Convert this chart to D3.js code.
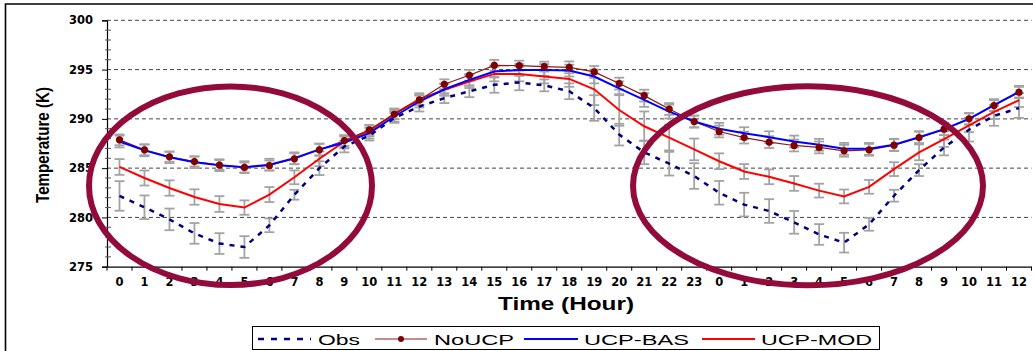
<!DOCTYPE html>
<html><head><meta charset="utf-8">
<script src="https://cdn.jsdelivr.net/npm/d3@7"></script>
<style>
html,body{margin:0;padding:0;background:#fff;}
svg{display:block;}
</style></head>
<body>
<svg id="chart" width="1033" height="351"></svg>
<script>
// ---- data ----
const hourLabels = ["0","1","2","3","4","5","6","7","8","9","10","11","12","13","14","15","16","17","18","19","20","21","22","23",
                    "0","1","2","3","4","5","6","7","8","9","10","11","12"];
const obs    = [282.18,281.03,279.8,278.38,277.35,277.0,279.2,282.3,285.0,287.2,288.3,290.1,291.25,292.1,292.8,293.45,293.7,293.4,292.8,291.1,288.4,286.6,285.45,284.2,
                282.5,281.3,280.65,279.5,278.27,277.44,279.3,282.2,284.8,287.1,288.9,290.3,291.1];
const noUCP  = [287.87,286.86,286.15,285.67,285.31,285.07,285.27,285.95,286.86,287.8,288.89,290.47,291.92,293.51,294.42,295.43,295.4,295.3,295.23,294.76,293.58,292.36,291.0,289.73,
                288.72,288.1,287.64,287.3,287.1,286.76,286.86,287.33,288.1,288.95,290.0,291.35,292.7];
const ucpBAS = [287.7,286.8,286.1,285.6,285.3,285.1,285.35,286.0,286.9,287.6,288.55,290.24,291.76,293.0,293.95,294.8,294.96,294.96,294.9,294.3,293.1,291.92,290.74,289.73,
                288.99,288.55,288.14,287.7,287.37,286.96,286.96,287.37,288.14,288.95,290.0,291.4,292.75];
const ucpMOD = [285.12,284.0,282.98,282.07,281.36,281.0,282.32,284.07,285.95,287.7,288.78,290.5,292.0,292.94,293.78,294.56,294.56,294.3,294.05,293.0,290.9,289.25,288.1,286.9,
                285.7,284.66,284.12,283.45,282.72,282.13,283.1,284.9,286.6,287.95,289.35,290.7,291.9];
// error bar half-widths (K)
const obsErr = [1.5,1.2,1.1,1.05,1.05,1.1,0.7,0.5,0.7,0.6,0.5,0.5,0.5,0.5,0.6,0.8,0.8,0.6,0.8,1.3,1.1,1.2,1.2,1.3,
                1.2,1.2,1.2,1.15,1.05,1.0,0.65,0.6,0.6,0.8,1.2,1.0,1.0];
const noUCPErr = [0.55,0.55,0.5,0.5,0.5,0.5,0.5,0.55,0.6,0.55,0.5,0.5,0.5,0.5,0.55,0.55,0.5,0.5,0.6,0.6,0.6,0.6,0.6,0.6,
                  0.6,0.6,0.6,0.6,0.6,0.6,0.6,0.6,0.6,0.6,0.55,0.55,0.55];
const basErr = [0.6,0.6,0.6,0.6,0.6,0.6,0.6,0.6,0.6,0.6,0.55,0.55,0.6,0.6,0.6,0.6,0.6,0.6,0.6,0.7,0.7,0.7,0.7,0.6,
                0.6,0.6,0.6,0.6,0.6,0.6,0.6,0.6,0.6,0.6,0.6,0.6,0.6];
const modErr = [0.8,0.76,0.78,0.78,0.8,0.73,0.76,0.7,0.75,0.6,0.55,0.55,0.6,0.6,0.65,0.75,0.75,0.7,0.8,1.6,1.6,1.5,1.3,1.1,
                0.8,0.75,0.75,0.75,0.7,0.7,0.7,0.7,0.8,0.8,0.7,0.7,0.7];
const yTicks = [275,280,285,290,295,300];
const seriesNames = ["Obs","NoUCP","UCP-BAS","UCP-MOD"];

// ---- layout ----
const svg = d3.select("#chart");
const L = 107, R = 1031.5, T = 20.3, B = 266.7;
const x = d3.scaleBand().domain(d3.range(hourLabels.length)).range([L, R]).padding(0);
const y = d3.scaleLinear().domain([275, 300]).range([B, T]);
const cx = i => x(i) + x.bandwidth() / 2;

// outer frame
svg.append("path").attr("d", "M5.5,351 L5.5,4 L1033,4").attr("fill","none").attr("stroke","#000").attr("stroke-width",1.6);

// gridlines
svg.append("g").selectAll("line").data(yTicks.filter(v => v > 275)).join("line")
  .attr("x1", L).attr("x2", R).attr("y1", d => y(d)).attr("y2", d => y(d))
  .attr("stroke", "#444").attr("stroke-width", 1).attr("stroke-dasharray", "4,3");

// y axis
const yAxis = svg.append("g").attr("transform", `translate(${L},0)`)
  .call(d3.axisLeft(y).tickValues(yTicks).tickSize(5).tickPadding(9).tickFormat(d3.format("d")));
yAxis.select(".domain").attr("stroke","#000").attr("stroke-width",1.2);
yAxis.selectAll("text").attr("font-family","'DejaVu Sans', sans-serif").attr("font-weight","bold")
  .attr("font-size", 11.5).attr("fill","#000");
// minor ticks (crossing the axis)
svg.append("g").selectAll("line").data(d3.range(276, 300).filter(v => v % 5 !== 0)).join("line")
  .attr("x1", L - 2).attr("x2", L + 4).attr("y1", d => y(d)).attr("y2", d => y(d))
  .attr("stroke", "#555").attr("stroke-width", 1);

// x axis
const xAxis = svg.append("g").attr("transform", `translate(0,${B})`)
  .call(d3.axisBottom(x).tickSize(0).tickPadding(11).tickFormat(i => hourLabels[i]));
xAxis.select(".domain").attr("stroke","#000").attr("stroke-width",1.2);
xAxis.selectAll("text").attr("font-family","'DejaVu Sans', sans-serif").attr("font-weight","bold")
  .attr("font-size", 11.5).attr("fill","#000");
svg.append("g").selectAll("line").data(d3.range(hourLabels.length + 1)).join("line")
  .attr("x1", i => i < hourLabels.length ? x(i) : R).attr("x2", i => i < hourLabels.length ? x(i) : R)
  .attr("y1", B).attr("y2", B + 4).attr("stroke","#000").attr("stroke-width",1);

// axis titles
svg.append("text").attr("transform", "translate(49,145) rotate(-90)")
  .attr("text-anchor","middle").attr("font-family","'Liberation Sans', Arial, sans-serif")
  .attr("font-weight","bold").attr("font-size", 19)
  .attr("textLength", 116).attr("lengthAdjust","spacingAndGlyphs").text("Temperature (K)");
svg.append("text").attr("x", 566).attr("y", 310).attr("text-anchor","middle")
  .attr("font-family","'Liberation Sans', Arial, sans-serif").attr("font-weight","bold")
  .attr("font-size", 18).attr("textLength", 136).attr("lengthAdjust","spacingAndGlyphs").text("Time (Hour)");

// error bars
function errorBars(vals, errs) {
  const g = svg.append("g").attr("stroke", "#a3a3a3").attr("stroke-width", 1.8).attr("fill","none");
  vals.forEach((v, i) => {
    const xc = cx(i), y1 = y(v + errs[i]), y2 = y(v - errs[i]);
    g.append("line").attr("x1", xc).attr("x2", xc).attr("y1", y1).attr("y2", y2);
    g.append("line").attr("x1", xc - 5).attr("x2", xc + 5).attr("y1", y1).attr("y2", y1);
    g.append("line").attr("x1", xc - 5).attr("x2", xc + 5).attr("y1", y2).attr("y2", y2);
  });
}
errorBars(obs, obsErr);
errorBars(ucpMOD, modErr);
errorBars(ucpBAS, basErr);
errorBars(noUCP, noUCPErr);

// lines
const line = d3.line().x((d, i) => cx(i)).y(d => y(d));
svg.append("path").datum(obs).attr("d", line).attr("fill","none")
  .attr("stroke","#000080").attr("stroke-width",2.5).attr("stroke-dasharray","5,6");
svg.append("path").datum(ucpMOD).attr("d", line).attr("fill","none")
  .attr("stroke","#ff0000").attr("stroke-width",2);
svg.append("path").datum(noUCP).attr("d", line).attr("fill","none")
  .attr("stroke","#8b1a1a").attr("stroke-width",1.2);
svg.append("path").datum(ucpBAS).attr("d", line).attr("fill","none")
  .attr("stroke","#0000ff").attr("stroke-width",2);
svg.append("g").selectAll("circle").data(noUCP).join("circle")
  .attr("cx", (d, i) => cx(i)).attr("cy", d => y(d)).attr("r", 3.6).attr("fill","#800000");

// annotation ellipses
svg.append("ellipse").attr("cx", 230.5).attr("cy", 185.7).attr("rx", 141.5).attr("ry", 99.3)
  .attr("fill","none").attr("stroke","#930b3a").attr("stroke-width",6);
svg.append("ellipse").attr("cx", 808).attr("cy", 185.8).attr("rx", 175).attr("ry", 99.5)
  .attr("fill","none").attr("stroke","#930b3a").attr("stroke-width",6);

// legend
const lg = svg.append("g");
lg.append("rect").attr("x", 252.5).attr("y", 326.5).attr("width", 627).attr("height", 23)
  .attr("fill","#fff").attr("stroke","#000").attr("stroke-width",1);
const items = [
  {name: seriesNames[0], x1: 258, x2: 311, tx: 318, tw: 42, color: "#000080", w: 2.5, dash: "6,7"},
  {name: seriesNames[1], x1: 375, x2: 427, tx: 434, tw: 80, color: "#8b1a1a", w: 1.2, dash: null, marker: true},
  {name: seriesNames[2], x1: 524, x2: 578, tx: 584, tw: 105, color: "#0000ff", w: 2, dash: null},
  {name: seriesNames[3], x1: 702, x2: 755, tx: 761, tw: 111, color: "#ff0000", w: 2, dash: null}
];
items.forEach(it => {
  lg.append("line").attr("x1", it.x1).attr("x2", it.x2).attr("y1", 339).attr("y2", 339)
    .attr("stroke", it.color).attr("stroke-width", it.w).attr("stroke-dasharray", it.dash);
  if (it.marker) lg.append("circle").attr("cx", (it.x1 + it.x2) / 2).attr("cy", 339).attr("r", 3).attr("fill", "#800000");
  lg.append("text").attr("x", it.tx).attr("y", 344.5).attr("font-family","'Liberation Sans', Arial, sans-serif")
    .attr("font-size", 15.5).attr("fill","#000")
    .attr("textLength", it.tw).attr("lengthAdjust","spacingAndGlyphs").text(it.name);
});
</script>
</body></html>
